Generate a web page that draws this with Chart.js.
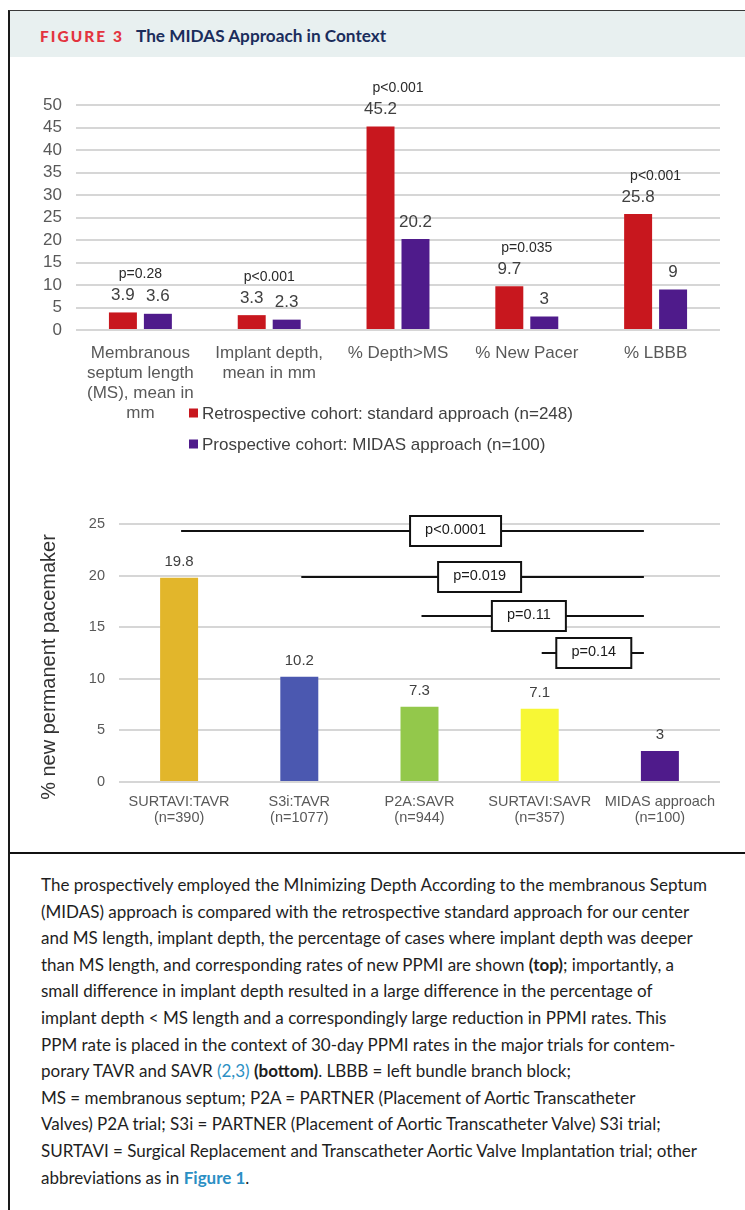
<!DOCTYPE html>
<html>
<head>
<meta charset="utf-8">
<title>The MIDAS Approach in Context</title>
<script src="https://cdn.jsdelivr.net/npm/chart.js@4.4.1/dist/chart.umd.min.js"></script>
<style>
  html, body { margin: 0; padding: 0; background: #fff; }
  body { width: 745px; height: 1210px; position: relative; overflow: hidden; font-family: "Liberation Sans", Arial, sans-serif; }
  #frame { position: absolute; left: 8px; top: 10px; width: 737px; height: 1200px; border-left: 2px solid #1a1a1a; border-top: 1px solid #3a3a3a; box-sizing: border-box; }
  #head { position: absolute; left: 10px; top: 11px; width: 735px; height: 46px; background: #e8f0f0; }
  #figno { position: absolute; left: 40px; top: 26px; font: 900 15.5px "Lato", "Open Sans", sans-serif; letter-spacing: 2px; color: #e3343f; line-height: 20px; }
  #figtitle { position: absolute; left: 136px; top: 25px; font: 700 17.2px "Lato", "Open Sans", sans-serif; color: #1b2d5c; line-height: 22px; white-space: nowrap; }
  #c1 { position: absolute; left: 0; top: 60px; }
  #c2 { position: absolute; left: 0; top: 480px; }
  #rule { position: absolute; left: 10px; top: 852px; width: 735px; height: 2px; background: #111; }
  .cap { position: absolute; left: 41px; font: 400 17px "Lato", "Open Sans", sans-serif; color: #1e1e1e; white-space: nowrap; line-height: 26px; }
  .cap b { font-weight: 700; }
  .ref { color: #2b8fc4; }
</style>
</head>
<body>
<div id="frame"></div>
<div id="head"></div>
<div id="figno">FIGURE 3</div>
<div id="figtitle">The MIDAS Approach in Context</div>
<canvas id="c1" width="745" height="410"></canvas>
<canvas id="c2" width="745" height="370"></canvas>
<div id="rule"></div>
<div id="caption"></div>
<script>
// ---- Top panel: MIDAS vs standard approach ----
const outcomeLabels = [
  ["Membranous", "septum length", "(MS), mean in", "mm"],
  ["Implant depth,", "mean in mm"],
  "% Depth>MS",
  "% New Pacer",
  "% LBBB"
];
const standardApproach = [3.9, 3.3, 45.2, 9.7, 25.8];
const midasApproach = [3.6, 2.3, 20.2, 3, 9];
const outcomePValues = ["p=0.28", "p<0.001", "p<0.001", "p=0.035", "p<0.001"];
const cohortNames = [
  "Retrospective cohort: standard approach (n=248)",
  "Prospective cohort: MIDAS approach (n=100)"
];
const topTicks = { min: 0, max: 50, step: 5 };

// ---- Bottom panel: 30-day pacemaker rates in major trials ----
const trialLabels = [
  ["SURTAVI:TAVR", "(n=390)"],
  ["S3i:TAVR", "(n=1077)"],
  ["P2A:SAVR", "(n=944)"],
  ["SURTAVI:SAVR", "(n=357)"],
  ["MIDAS approach", "(n=100)"]
];
const ppmRates = [19.8, 10.2, 7.3, 7.1, 3];
const comparisonP = ["p<0.0001", "p=0.019", "p=0.11", "p=0.14"];
const comparisonFrom = [0, 1, 2, 3];
const bottomTicks = { min: 0, max: 25, step: 5 };

// Bracket layout (axis units) for the comparison lines
const bracketLevel = [24.3, 19.85, 16.1, 12.5];
const bracketBoxAt = [2.3, 2.5, 2.91, 3.45];

const RED = "#c8171e", PURPLE = "#4f1b8b";
const trialColors = ["#e2b62b", "#4b58b0", "#93c84b", "#f7f735", "#4f1b8b"];
const SANS = "'Liberation Sans', Arial, sans-serif";
const GRID = "#d6d6d6";

// Value labels above each bar
const valueLabels = {
  id: "valueLabels",
  afterDatasetsDraw(chart, args, opts) {
    const ctx = chart.ctx;
    ctx.save();
    ctx.font = opts.font;
    ctx.fillStyle = "#404040";
    ctx.textAlign = "center";
    ctx.textBaseline = "middle";
    chart.data.datasets.forEach((ds, di) => {
      chart.getDatasetMeta(di).data.forEach((bar, i) => {
        ctx.fillText(String(ds.data[i]), bar.x, bar.y - opts.offset);
      });
    });
    ctx.restore();
  }
};

// p-values above each outcome group (top panel)
const groupPValues = {
  id: "groupPValues",
  afterDatasetsDraw(chart) {
    const ctx = chart.ctx;
    const xs = chart.scales.x;
    ctx.save();
    ctx.font = "14px " + SANS;
    ctx.fillStyle = "#2a2a2a";
    ctx.textAlign = "center";
    ctx.textBaseline = "middle";
    outcomePValues.forEach((p, i) => {
      const tops = chart.data.datasets.map((ds, di) => chart.getDatasetMeta(di).data[i].y);
      const y = Math.min(...tops) - 17 - 21;
      ctx.fillText(p, xs.getPixelForValue(i), y);
    });
    ctx.restore();
  }
};

// Stacked legend with square markers
const stackedLegend = {
  id: "stackedLegend",
  afterDraw(chart, args, opts) {
    const ctx = chart.ctx;
    ctx.save();
    ctx.font = "17px " + SANS;
    ctx.textBaseline = "middle";
    chart.data.datasets.forEach((ds, i) => {
      const y = opts.y + i * opts.gap;
      ctx.fillStyle = ds.backgroundColor;
      ctx.fillRect(opts.x, y - 4.5, 9, 9);
      ctx.fillStyle = "#404040";
      ctx.textAlign = "left";
      ctx.fillText(ds.label, opts.x + 13, y + 1);
    });
    ctx.restore();
  }
};

// Comparison brackets with boxed p-values (bottom panel)
const comparisonBrackets = {
  id: "comparisonBrackets",
  afterDatasetsDraw(chart) {
    const ctx = chart.ctx;
    const xs = chart.scales.x, ys = chart.scales.y;
    const last = ppmRates.length - 1;
    ctx.save();
    ctx.font = "14.5px " + SANS;
    ctx.textAlign = "center";
    ctx.textBaseline = "middle";
    comparisonP.forEach((p, k) => {
      const y = Math.round(ys.getPixelForValue(bracketLevel[k]));
      const x0 = xs.getPixelForValue(comparisonFrom[k]) + 2;
      const x1 = xs.getPixelForValue(last) - 16;
      ctx.strokeStyle = "#111";
      ctx.lineWidth = 2;
      ctx.beginPath();
      ctx.moveTo(x0, y);
      ctx.lineTo(x1, y);
      ctx.stroke();
      const cx = xs.getPixelForValue(bracketBoxAt[k]);
      const w = Math.round(ctx.measureText(p).width + 30);
      const h = 30;
      ctx.fillStyle = "#fff";
      ctx.fillRect(cx - w / 2, y - h / 2, w, h);
      ctx.strokeRect(cx - w / 2, y - h / 2, w, h);
      ctx.fillStyle = "#1a1a1a";
      ctx.fillText(p, cx, y - 1);
    });
    ctx.restore();
  }
};

// Rotated y-axis title for the bottom panel
const sideTitle = {
  id: "sideTitle",
  afterDraw(chart) {
    const ctx = chart.ctx;
    ctx.save();
    ctx.translate(49, 187);
    ctx.rotate(-Math.PI / 2);
    ctx.font = "20px " + SANS;
    ctx.fillStyle = "#333";
    ctx.textAlign = "center";
    ctx.textBaseline = "middle";
    ctx.fillText("% new permanent pacemaker", 0, 0);
    ctx.restore();
  }
};

function yAxis(t, width, size) {
  return {
    min: t.min, max: t.max,
    afterFit(s) { s.width = width; },
    border: { display: false },
    grid: { color: GRID, lineWidth: 2, drawTicks: false },
    ticks: { stepSize: t.step, autoSkip: false, padding: 14, color: "#595959", font: { family: SANS, size: size } }
  };
}

function xAxis(height, size, lineHeight, pad) {
  return {
    afterFit(s) { s.height = height; },
    border: { display: false },
    grid: { display: false, drawTicks: false },
    ticks: { autoSkip: false, maxRotation: 0, minRotation: 0, padding: pad, color: "#595959",
             font: { family: SANS, size: size, lineHeight: lineHeight } }
  };
}

new Chart(document.getElementById("c1"), {
  type: "bar",
  data: {
    labels: outcomeLabels,
    datasets: [
      { label: cohortNames[0], data: standardApproach, backgroundColor: RED },
      { label: cohortNames[1], data: midasApproach, backgroundColor: PURPLE }
    ]
  },
  plugins: [valueLabels, groupPValues, stackedLegend],
  options: {
    responsive: false, animation: false, devicePixelRatio: 1,
    layout: { padding: { top: 45, right: 25, left: 0, bottom: 0 } },
    datasets: { bar: { categoryPercentage: 0.543, barPercentage: 0.8 } },
    scales: { x: xAxis(140, 17, "20px", 13), y: yAxis(topTicks, 76, 17) },
    plugins: {
      legend: { display: false }, tooltip: { enabled: false },
      valueLabels: { font: "17px " + SANS, offset: 17 },
      stackedLegend: { x: 189, y: 353, gap: 31 }
    }
  }
});

new Chart(document.getElementById("c2"), {
  type: "bar",
  data: {
    labels: trialLabels,
    datasets: [{ label: "% new permanent pacemaker", data: ppmRates, backgroundColor: trialColors }]
  },
  plugins: [valueLabels, comparisonBrackets, sideTitle],
  options: {
    responsive: false, animation: false, devicePixelRatio: 1,
    layout: { padding: { top: 44, right: 25, left: 0, bottom: 0 } },
    datasets: { bar: { categoryPercentage: 0.8, barPercentage: 0.395 } },
    scales: { x: xAxis(68, 14.5, "16px", 12), y: yAxis(bottomTicks, 119, 14.5) },
    plugins: {
      legend: { display: false }, tooltip: { enabled: false },
      valueLabels: { font: "15px " + SANS, offset: 16 }
    }
  }
});

// Figure legend text
const captionLines = [
  "The prospectively employed the MInimizing Depth According to the membranous Septum",
  "(MIDAS) approach is compared with the retrospective standard approach for our center",
  "and MS length, implant depth, the percentage of cases where implant depth was deeper",
  "than MS length, and corresponding rates of new PPMI are shown <b>(top)</b>; importantly, a",
  "small difference in implant depth resulted in a large difference in the percentage of",
  "implant depth &lt; MS length and a correspondingly large reduction in PPMI rates. This",
  "PPM rate is placed in the context of 30-day PPMI rates in the major trials for contem-",
  "porary TAVR and SAVR <span class=\"ref\">(2,3)</span> <b>(bottom)</b>. LBBB = left bundle branch block;",
  "MS = membranous septum; P2A = PARTNER (Placement of Aortic Transcatheter",
  "Valves) P2A trial; S3i = PARTNER (Placement of Aortic Transcatheter Valve) S3i trial;",
  "SURTAVI = Surgical Replacement and Transcatheter Aortic Valve Implantation trial; other",
  "abbreviations as in <b class=\"ref\">Figure 1</b>."
];
const cap = document.getElementById("caption");
captionLines.forEach((html, i) => {
  const d = document.createElement("div");
  d.className = "cap";
  d.style.top = (872 + i * 26.6) + "px";
  d.innerHTML = html;
  cap.appendChild(d);
});
</script>
</body>
</html>
